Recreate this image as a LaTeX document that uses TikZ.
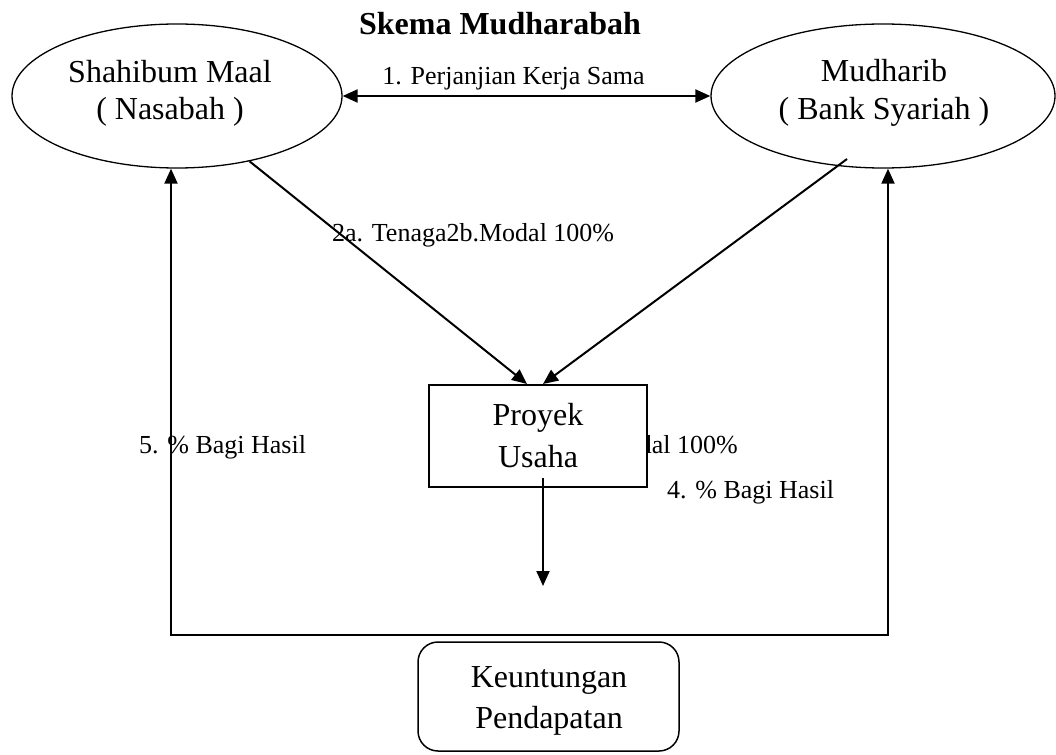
\documentclass[tikz,border=0pt]{standalone}
\usepackage{fontspec}
\setmainfont{Liberation Serif}
\usetikzlibrary{shapes.geometric,arrows.meta,calc}
\begin{document}
\begin{tikzpicture}[x=1pt,y=-1pt,
  bigtext/.style={font=\fontsize{32}{38}\selectfont,inner sep=0pt,anchor=base},
  lbl/.style={font=\fontsize{26}{31}\selectfont,inner sep=0pt},
  party/.style={draw,ellipse,line width=1.3pt,inner sep=0pt},
  conn/.style={line width=2pt,-{Triangle[length=15pt,width=13pt]}},
  dconn/.style={line width=2pt,{Triangle[length=15pt,width=13pt]}-{Triangle[length=15pt,width=13pt]}},
  boxed/.style={draw,line width=2pt,fill=white,inner sep=0pt}]
\useasboundingbox (0,0) rectangle (1056,754);
% title
\node[font=\fontsize{32}{38}\selectfont\bfseries,inner sep=0pt,anchor=base] (title) at (500,35) {Skema Mudharabah};
% parties
\node[party,minimum width=330pt,minimum height=144pt] (L) at (177,96) {};
\node[party,minimum width=344pt,minimum height=144pt] (R) at (883,96) {};
\node[bigtext] (Lt1) at (170,83) {Shahibum Maal};
\node[bigtext] (Lt2) at (170,120) {( Nasabah )};
\node[bigtext] (Rt1) at (884,82) {Mudharib};
\node[bigtext] (Rt2) at (884,120) {( Bank Syariah )};
% hidden label behind project box
\node[lbl,anchor=base east] (l3) at (738,453) {dal 100\%};
% project box
\node[boxed,minimum width=218pt,minimum height=102pt] (P) at (538,436) {};
\node[bigtext] (Pt1) at (538,425) {Proyek};
\node[bigtext] (Pt2) at (538,467) {Usaha};
% result box
\node[boxed,rounded corners=20pt,line width=1.5pt,minimum width=261pt,minimum height=109pt] (K) at (548.5,696.5) {};
\node[bigtext] (Kt1) at (549,687) {Keuntungan};
\node[bigtext] (Kt2) at (549,728) {Pendapatan};
% labels
\node[lbl,anchor=base] (l1) at (513.5,85) {1. Perjanjian Kerja Sama};
\node[lbl,anchor=base west] (l2) at (332,241) {2a. Tenaga2b.Modal 100\%};
\node[lbl,anchor=base west] (l5) at (139,453) {5. \% Bagi Hasil};
\node[lbl,anchor=base west] (l4) at (667,498) {4. \% Bagi Hasil};
% coordinates
\coordinate (bl) at (171,635);
\coordinate (br) at (888,635);
\coordinate (rs) at ($(R.center)+(-36,63)$);
\coordinate (ps) at (543,478);
\coordinate (pe) at (543,586);
% connectors
\draw[dconn] (L.east) -- (R.west);
\draw[conn] (L.-42.4) -- ($(P.north)+(-11,0)$);
\draw[conn] (rs) -- ($(P.north)+(5,0)$);
\draw[conn] (ps) -- (pe);
\draw[dconn] (bl |- L.south) -- (bl) -- (br) -- (br |- R.south);
\end{tikzpicture}
\end{document}
